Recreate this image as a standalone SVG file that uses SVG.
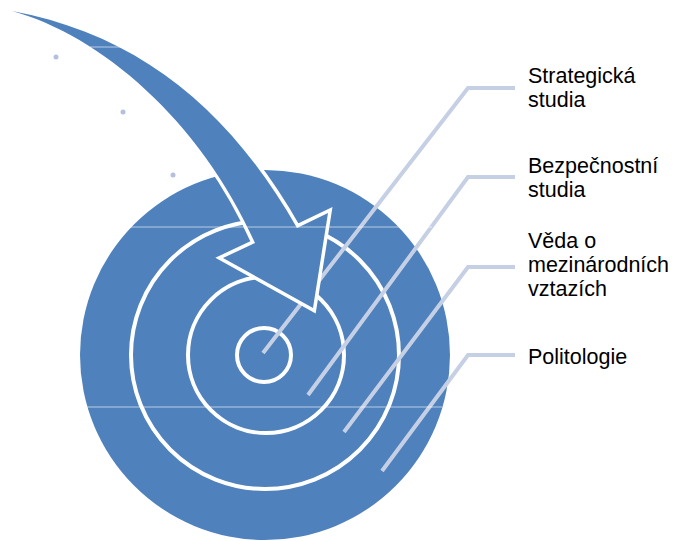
<svg xmlns="http://www.w3.org/2000/svg" width="677" height="541" viewBox="0 0 677 541">
  <style>
    .blue { fill: #4F81BD; }
    .ring { fill: none; stroke: #FFFFFF; stroke-width: 4; }
    .leader { fill: none; stroke: #C6D0E5; stroke-width: 4; stroke-linejoin: miter; }
    .seam { stroke: #FFFFFF; stroke-opacity: 0.6; stroke-width: 1; }
    .dot { fill: #B4C0DD; }
    .lbl { font-family: "Liberation Sans", Arial, sans-serif; font-size: 21.5px; fill: #000000; }
  </style>
  <rect width="677" height="541" fill="#FFFFFF"/>

  <g id="target">
    <circle class="blue" cx="265" cy="355" r="185"/>
    <circle class="ring" cx="265" cy="355" r="134"/>
    <circle class="ring" cx="266" cy="355" r="78"/>
    <circle class="ring" cx="264" cy="355" r="27"/>
  </g>

  <g id="dots">
    <circle class="dot" cx="56" cy="57" r="2.5"/>
    <circle class="dot" cx="123" cy="112" r="2.5"/>
    <circle class="dot" cx="173" cy="175" r="2.5"/>
  </g>

  <g id="connectors">
    <polyline class="leader" points="515,88 468,88 263,353"/>
    <polyline class="leader" points="515,177 468,177 308,395"/>
    <polyline class="leader" points="515,267 468,267 344,432"/>
    <polyline class="leader" points="515,355 468,355 382,471"/>
  </g>

  <g id="arrow">
    <path class="blue" d="M 12 11 C 140 35, 230 110, 297 228 L 328 213 L 313 308 L 223 258 L 255 243 C 200 120, 100 35, 12 11 Z" stroke="#FFFFFF" stroke-width="7" stroke-linejoin="miter" paint-order="stroke"/>
  </g>

  <g id="seams">
    <line class="seam" x1="130" y1="227" x2="432" y2="227"/>
    <line class="seam" x1="86" y1="407" x2="442" y2="407"/>
    <line class="seam" x1="90" y1="47" x2="124" y2="47"/>
  </g>

  <g id="label-strategicka">
    <text class="lbl" x="528" y="83">Strategická</text>
    <text class="lbl" x="528" y="107">studia</text>
  </g>
  <g id="label-bezpecnostni">
    <text class="lbl" x="528" y="173">Bezpečnostní</text>
    <text class="lbl" x="528" y="197">studia</text>
  </g>
  <g id="label-veda">
    <text class="lbl" x="528" y="248">Věda o</text>
    <text class="lbl" x="528" y="272">mezinárodních</text>
    <text class="lbl" x="528" y="296">vztazích</text>
  </g>
  <g id="label-politologie">
    <text class="lbl" x="528" y="364">Politologie</text>
  </g>
</svg>
